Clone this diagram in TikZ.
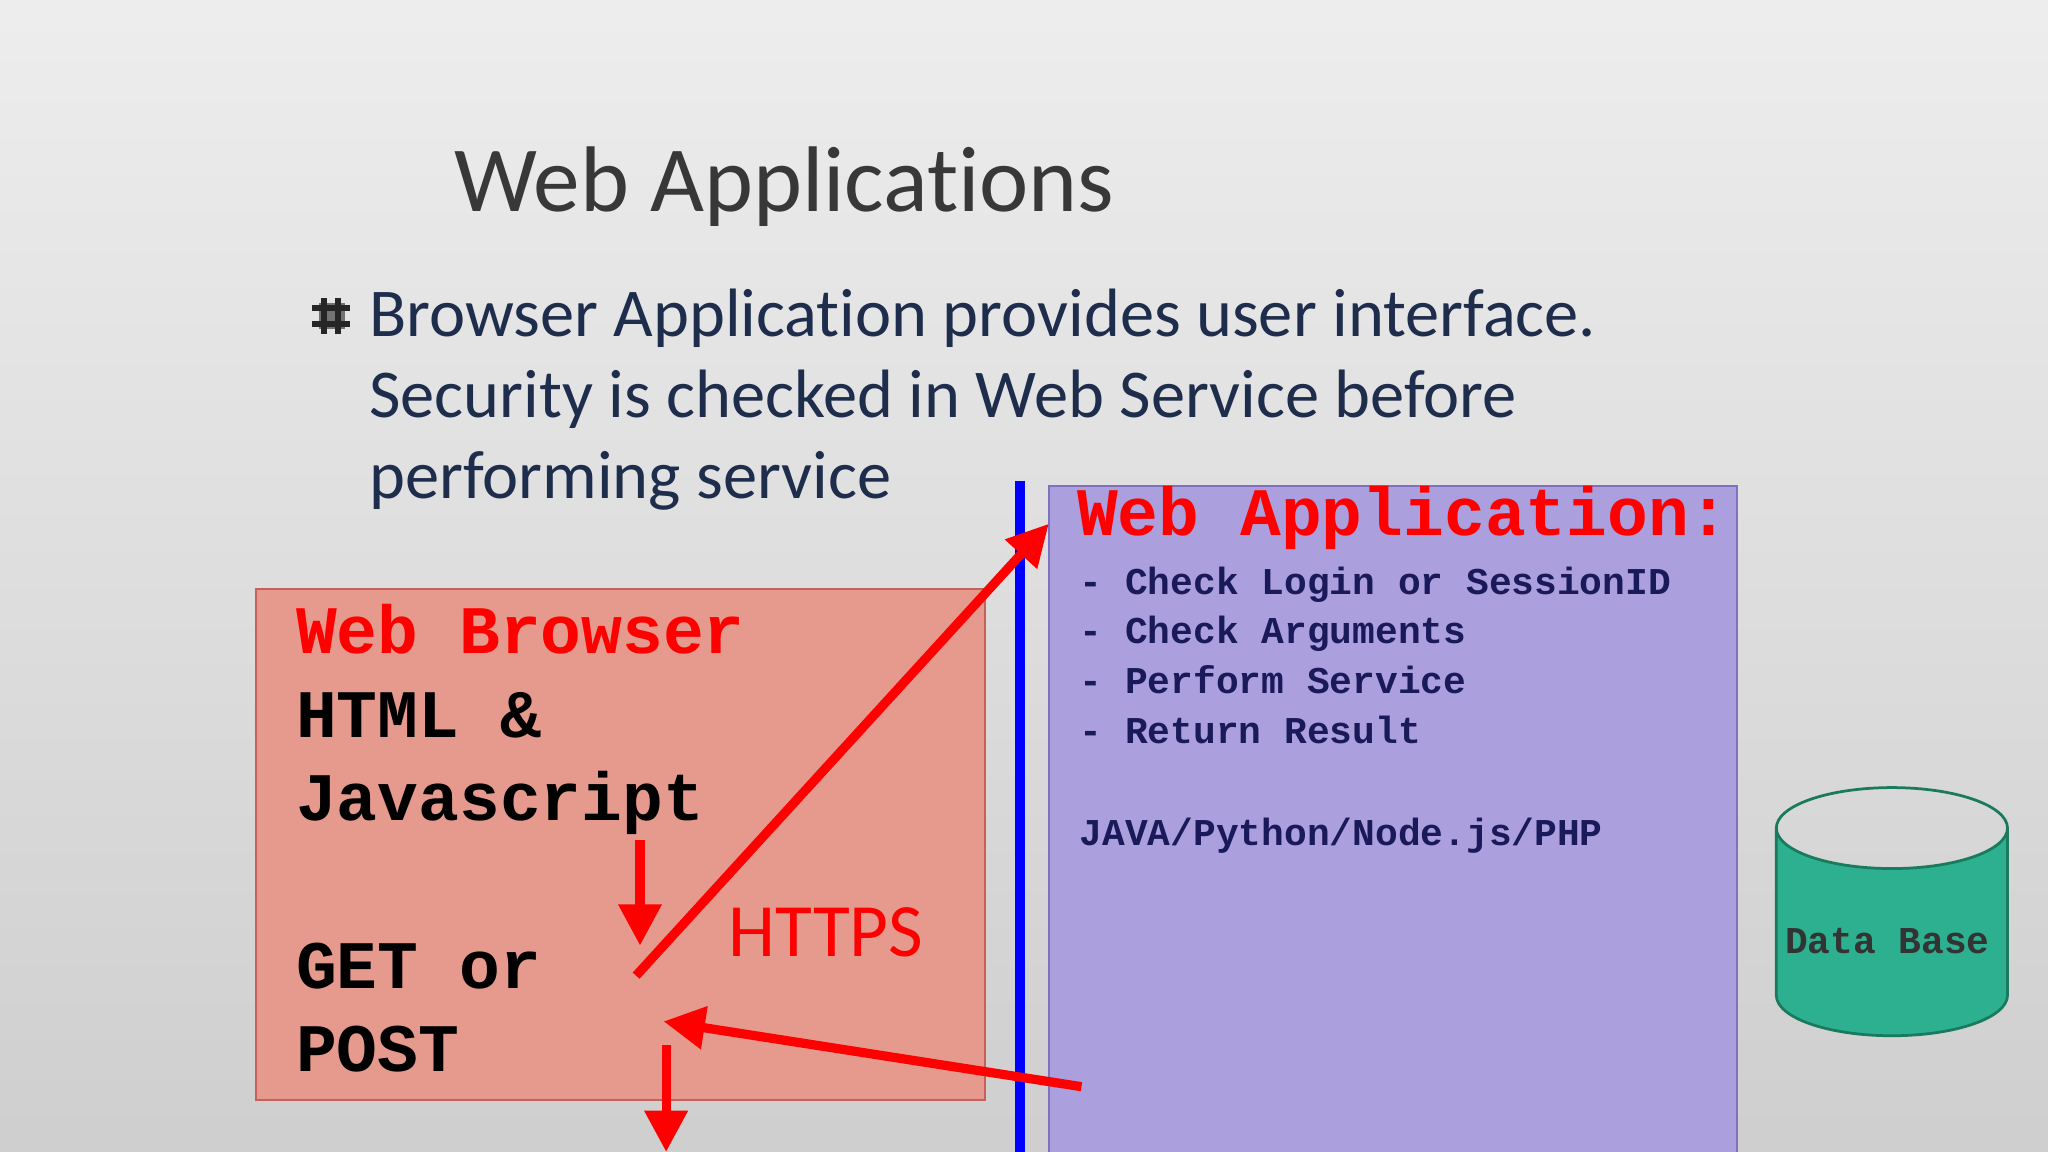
\documentclass[tikz,border=0pt]{standalone}
\usepackage{fontspec}
\setmainfont[Ligatures=NoCommon,Contextuals=NoAlternate]{Carlito}
\newfontfamily\cour{Liberation Mono}
\usetikzlibrary{arrows.meta}
\definecolor{navy}{HTML}{1F2D4D}
\definecolor{boxred}{HTML}{E69A8E}
\definecolor{boxredb}{HTML}{C8605A}
\definecolor{boxpur}{HTML}{AC9FDD}
\definecolor{boxpurb}{HTML}{8070C0}
\definecolor{dbgreen}{HTML}{2DB08F}
\definecolor{dbedge}{HTML}{1A7A5E}
\definecolor{listc}{HTML}{1A1A5A}
\tikzset{
  big/.style={anchor=base west,inner sep=0pt,font=\cour\bfseries\fontsize{14.8}{16}\selectfont},
  small/.style={anchor=base west,inner sep=0pt,font=\cour\bfseries\fontsize{8.25}{9}\selectfont,text=listc},
  bul/.style={anchor=base west,inner sep=0pt,font=\fontsize{14.9}{18}\selectfont,text=navy},
  redarrow/.style={draw=red,line width=2pt,-{Triangle[length=9pt,width=9pt]}}
}
\begin{document}
\begin{tikzpicture}[x=0.01cm,y=-0.01cm]
\useasboundingbox (0,0) rectangle (1568,882);
\shade[top color=black!7,bottom color=black!19] (0,0) rectangle (1568,882);
\node[anchor=base west,inner sep=0pt,font=\fontsize{20.3}{24}\selectfont,text=black!78] (title) at (347,162) {Web Applications};
% bullet symbol
\fill[black!55] (244,232) rectangle (264,252);
\draw[black!85,line width=1.3pt] (248,228) -- (248,256) (259,228) -- (259,256) (239,236) -- (268,236) (239,248) -- (268,248);
\node[bul] (b1) at (282,258) {Browser Application provides user interface.};
\node[bul] (b2) at (282,320) {Security is checked in Web Service before};
\node[bul] (b3) at (282,382) {performing service};
% boxes
\path[fill=boxred,draw=boxredb,line width=0.5pt] (196,451) rectangle (754,842);
\path[fill=boxpur,draw=boxpurb,line width=0.5pt] (803,372) rectangle (1330,890);
\draw[blue,line width=2.3pt] (781,368) -- (781,890);
% database cylinder
\path[fill=dbgreen,draw=dbedge,line width=0.6pt] (1360,634) arc[start angle=180,end angle=360,x radius=88.5,y radius=-31] -- (1537,762) arc[start angle=0,end angle=-180,x radius=88.5,y radius=-31] -- cycle;
\path[draw=dbedge,line width=0.6pt] (1360,634) arc[start angle=180,end angle=0,x radius=88.5,y radius=-31];
\node[small,text=black!80] (dbt) at (1366,730) {Data Base};
% browser text
\node[big,text=red] (wb) at (226,500) {Web Browser};
\node[big] (h1) at (226,565) {HTML \&};
\node[big] (h2) at (226,628) {Javascript};
\node[big] (g1) at (226,757) {GET or};
\node[big] (g2) at (226,820) {POST};
\node[anchor=base west,inner sep=0pt,font=\fontsize{16.4}{19}\selectfont,text=red] (https) at (557,732) {HTTPS};
% app text
\node[big,text=red] (wa) at (824,410) {Web Application:};
\node[small] (l1) at (826,455) {-~Check Login or SessionID};
\node[small] (l2) at (826,493) {-~Check Arguments};
\node[small] (l3) at (826,531) {-~Perform Service};
\node[small] (l4) at (826,569) {-~Return Result};
\node[small] (l5) at (826,647) {JAVA/Python/Node.js/PHP};
% arrows
\coordinate (a1s) at (490,643); \coordinate (a1e) at (490,724);
\coordinate (a2s) at (487,747); \coordinate (a2e) at (803,401);
\coordinate (a3s) at (828,832); \coordinate (a3e) at (508,782);
\coordinate (a4s) at (510,800); \coordinate (a4e) at (510,882);
\draw[redarrow] (a1s) -- (a1e);
\draw[redarrow] (a2s) -- (a2e);
\draw[redarrow] (a3s) -- (a3e);
\draw[redarrow] (a4s) -- (a4e);
\end{tikzpicture}
\end{document}
